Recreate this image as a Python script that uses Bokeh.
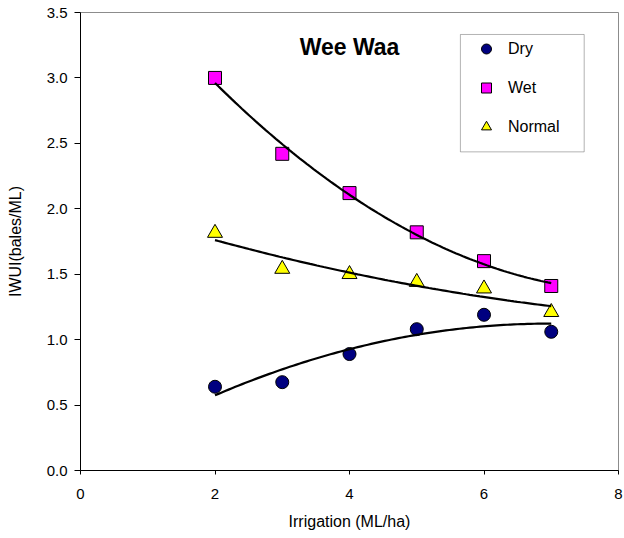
import numpy as np
from bokeh.plotting import figure
from bokeh.models import (Range1d, FixedTicker, PrintfTickFormatter, Legend,
                          LegendItem, Label, BoxAnnotation)
from bokeh.embed import file_html
from bokeh.resources import INLINE

# Irrigation water use index by season type, Wee Waa
irrigation = [2, 3, 4, 5, 6, 7]
dry = [0.64, 0.675, 0.89, 1.08, 1.19, 1.06]
wet = [3.00, 2.42, 2.12, 1.82, 1.60, 1.41]
normal = [1.815, 1.54, 1.50, 1.44, 1.39, 1.21]

x_ticks = [0, 2, 4, 6, 8]
y_ticks = [0.0, 0.5, 1.0, 1.5, 2.0, 2.5, 3.0, 3.5]

FONT = "Liberation Sans"

p = figure(width=624, height=538, x_range=Range1d(0, 8), y_range=Range1d(0, 3.5),
           output_backend="svg", toolbar_location=None,
           min_border_left=80, min_border_right=6, min_border_top=12,
           min_border_bottom=68)
p.background_fill_color = "white"
p.border_fill_color = "white"
p.outline_line_color = "#8c8c8c"
p.outline_line_width = 1
p.grid.visible = False

# axes
for ax in (p.xaxis[0], p.yaxis[0]):
    ax.axis_line_color = "black"
    ax.major_tick_line_color = "black"
    ax.minor_tick_line_color = None
    ax.major_label_text_font = FONT
    ax.major_label_text_color = "black"
    ax.axis_label_text_font = FONT
    ax.axis_label_text_font_style = "normal"
    ax.axis_label_text_color = "black"
    ax.major_tick_in = 0

p.xaxis.ticker = FixedTicker(ticks=x_ticks)
p.xaxis.major_tick_out = 4
p.xaxis.major_label_standoff = 14
p.xaxis.major_label_text_font_size = "15px"
p.xaxis.axis_label = "Irrigation (ML/ha)"
p.xaxis.axis_label_text_font_size = "16px"
p.xaxis.axis_label_standoff = 11

p.yaxis.ticker = FixedTicker(ticks=y_ticks)
p.yaxis.formatter = PrintfTickFormatter(format="%.1f")
p.yaxis.major_tick_out = 6
p.yaxis.major_label_standoff = 7
p.yaxis.major_label_text_font_size = "15px"
p.yaxis.axis_label = "IWUI(bales/ML)"
p.yaxis.axis_label_text_font_size = "16px"
p.yaxis.axis_label_standoff = 20

# series markers
r_dry = p.scatter(irrigation, dry, marker="circle", size=13,
                  fill_color="#000080", line_color="black", line_width=1)
r_wet = p.scatter(irrigation, wet, marker="square", size=13,
                  fill_color="#ff00ff", line_color="black", line_width=1)
r_normal = p.scatter(irrigation, normal, marker="triangle", size=15,
                     fill_color="#ffff00", line_color="black", line_width=1)

# second-order polynomial trend lines
xs = np.linspace(min(irrigation), max(irrigation), 100)
for series in (dry, wet, normal):
    coef = np.polyfit(irrigation, series, 2)
    p.line(xs, np.polyval(coef, xs), line_color="black", line_width=2.2)

# title inside the plot area
p.add_layout(Label(x=4.0, y=3.235, text="Wee Waa", text_align="center",
                   text_baseline="alphabetic", text_font=FONT,
                   text_font_size="23px", text_font_style="bold",
                   text_color="black"))

# legend frame
p.add_layout(BoxAnnotation(left=5.649, right=7.49, bottom=2.435, top=3.332,
                           fill_color="white", fill_alpha=1.0,
                           line_color="black", line_width=1, level="annotation"))

legend = Legend(items=[LegendItem(label="Dry", renderers=[r_dry]),
                       LegendItem(label="Wet", renderers=[r_wet]),
                       LegendItem(label="Normal", renderers=[r_normal])],
                location=(386, 326), orientation="vertical",
                glyph_width=30, glyph_height=25, label_height=25,
                spacing=14, padding=5, label_standoff=7,
                label_text_font=FONT, label_text_font_size="16px",
                label_text_color="black",
                background_fill_alpha=0, border_line_alpha=0)
p.add_layout(legend)

open("out.html", "w").write(file_html(p, INLINE))
